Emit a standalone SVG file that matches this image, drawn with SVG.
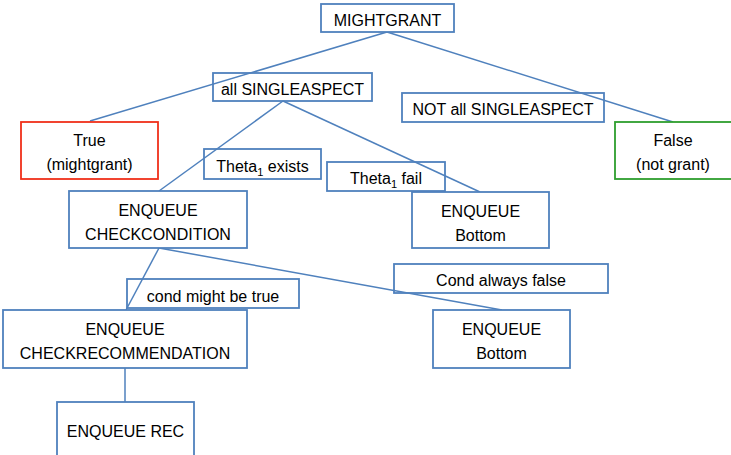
<svg xmlns="http://www.w3.org/2000/svg" width="731" height="455" viewBox="0 0 731 455">
<style>
.box{fill:#fff;stroke:#4F81BD;stroke-width:1.8}
.red{fill:#fff;stroke:#F0301A;stroke-width:1.8}
.green{fill:#fff;stroke:#2E9E2E;stroke-width:1.8}
.lbl{fill:#fff;stroke:#4F81BD;stroke-width:1.8}
.edge{stroke:#4F81BD;stroke-width:1.5;fill:none}
text{font-family:"Liberation Sans",Arial,sans-serif;font-size:16px;fill:#000;text-anchor:middle}
.sub{font-size:11px}
</style>
<g id="lbl-all-singleaspect"><rect class="lbl" x="213" y="73" width="159" height="28"/><text x="292.5" y="95">all SINGLEASPECT</text></g>
<g id="lbl-not-all-singleaspect"><rect class="lbl" x="402" y="93" width="202" height="29"/><text x="503" y="115">NOT all SINGLEASPECT</text></g>
<g id="lbl-theta-exists"><rect class="lbl" x="204" y="149" width="117" height="30"/><text x="262.5" y="172">Theta<tspan class="sub" dy="4">1</tspan><tspan dy="-4"> exists</tspan></text></g>
<g id="lbl-theta-fail"><rect class="lbl" x="327" y="162" width="118" height="29"/><text x="386" y="184">Theta<tspan class="sub" dy="4">1</tspan><tspan dy="-4"> fail</tspan></text></g>
<g id="lbl-cond-false"><rect class="lbl" x="394" y="264" width="214" height="29"/><text x="501" y="286">Cond always false</text></g>
<g id="lbl-cond-true"><rect class="lbl" x="127" y="279" width="172" height="29"/><text x="213" y="302">cond might be true</text></g>
<g id="connectors">
<line class="edge" x1="387" y1="32" x2="90" y2="121"/>
<line class="edge" x1="387" y1="32" x2="673" y2="122"/>
<line class="edge" x1="283" y1="101" x2="159" y2="191"/>
<line class="edge" x1="283" y1="101" x2="480" y2="192"/>
<line class="edge" x1="159" y1="248" x2="126" y2="310"/>
<line class="edge" x1="159" y1="248" x2="502" y2="310"/>
<line class="edge" x1="125" y1="368" x2="125" y2="402"/>
</g>
<g id="mightgrant"><rect class="box" x="321" y="4" width="133" height="28"/><text x="387.5" y="26">MIGHTGRANT</text></g>
<g id="true"><rect class="red" x="21" y="122" width="137" height="57"/><text x="89.5" y="146">True</text><text x="89.5" y="170">(mightgrant)</text></g>
<g id="false"><rect class="green" x="615" y="122" width="120" height="57"/><text x="673" y="146">False</text><text x="673" y="170">(not grant)</text></g>
<g id="checkcondition"><rect class="box" x="69" y="191" width="178" height="57"/><text x="158" y="216">ENQUEUE</text><text x="158" y="240">CHECKCONDITION</text></g>
<g id="bottom1"><rect class="box" x="412" y="192" width="137" height="56"/><text x="480.5" y="217">ENQUEUE</text><text x="480.5" y="241">Bottom</text></g>
<g id="checkrecommendation"><rect class="box" x="3" y="310" width="244" height="58"/><text x="125" y="335">ENQUEUE</text><text x="125" y="359">CHECKRECOMMENDATION</text></g>
<g id="bottom2"><rect class="box" x="433" y="310" width="137" height="58"/><text x="501.5" y="335">ENQUEUE</text><text x="501.5" y="359">Bottom</text></g>
<g id="enqueue-rec"><rect class="box" x="57" y="402" width="137" height="60"/><text x="125.5" y="437">ENQUEUE REC</text></g>
</svg>
